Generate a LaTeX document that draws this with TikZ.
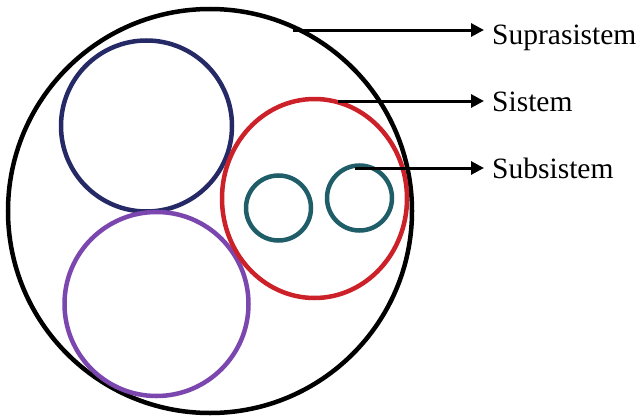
\documentclass[tikz,border=0pt]{standalone}
\usepackage{fontspec}
\setmainfont{Liberation Serif}
\usetikzlibrary{arrows.meta,shapes.geometric}
\definecolor{cnavy}{HTML}{252A66}
\definecolor{cpurple}{HTML}{7B47AE}
\definecolor{cred}{HTML}{CC2129}
\definecolor{cteal}{HTML}{1F5E69}
\begin{document}
\begin{tikzpicture}[x=1pt,y=-1pt,
  ring/.style={circle,draw,line width=4.5pt,inner sep=0pt},
  arr/.style={-{Triangle[length=13pt,width=13pt]},line width=3pt,black},
  lbl/.style={anchor=base west,inner sep=0pt,font=\fontsize{29.5}{31}\selectfont}]
\useasboundingbox (0,0) rectangle (642,415);
\node[ring,black,minimum size=404pt] (supra) at (210,211) {};
\node[ring,cnavy,minimum size=171pt] (blue) at (146.5,126) {};
\node[ring,cpurple,minimum size=184pt] (purple) at (156.5,304) {};
\node[ellipse,draw,line width=4.5pt,inner sep=0pt,cred,minimum width=185pt,minimum height=199pt] (sis) at (314.5,198.5) {};
\node[ring,cteal,minimum size=65pt] (subA) at (278.5,208) {};
\node[ring,cteal,minimum size=65pt] (subB) at (359.5,198) {};
\coordinate (s1) at (293,30);
\coordinate (s2) at (338,101);
\coordinate (s3) at (355,168);
\coordinate (e1) at (484,30);
\coordinate (e2) at (484,101);
\coordinate (e3) at (484,168);
\draw[arr] (s1) -- (e1);
\draw[arr] (s2) -- (e2);
\draw[arr] (s3) -- (e3);
\node[lbl] (t1) at (492,44) {Suprasistem};
\node[lbl] (t2) at (492,111) {Sistem};
\node[lbl] (t3) at (492,178) {Subsistem};
\end{tikzpicture}
\end{document}
